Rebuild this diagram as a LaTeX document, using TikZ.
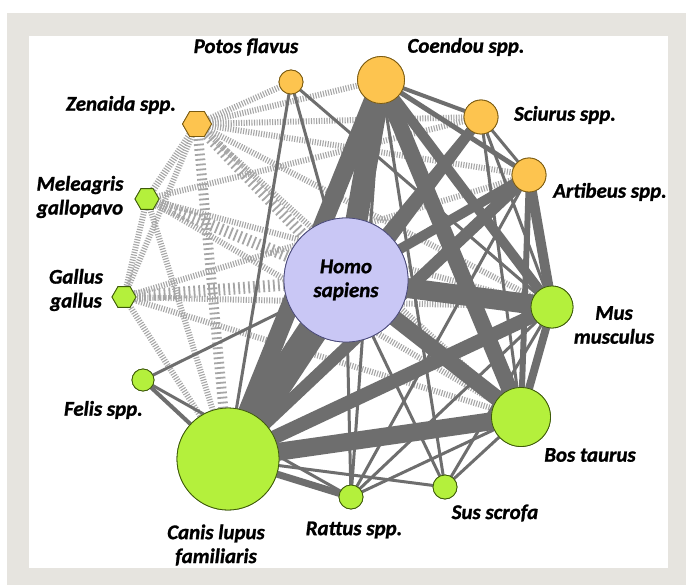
\documentclass[tikz,border=0pt]{standalone}
\usepackage{fontspec}
\setmainfont{Carlito}[BoldItalicFeatures={FakeBold=1.2}]
\usetikzlibrary{shapes.geometric}
\definecolor{bandgrey}{HTML}{E6E4DF}
\definecolor{orangefill}{HTML}{FDC44F}
\definecolor{orangeline}{HTML}{7A5A10}
\definecolor{greenfill}{HTML}{B4F03C}
\definecolor{greenline}{HTML}{3E5A0A}
\definecolor{homofill}{HTML}{C9C7F5}
\definecolor{homoline}{HTML}{4A4A7A}
\definecolor{edgegrey}{HTML}{6E6E6E}
\definecolor{hatchgrey}{HTML}{A6A6A6}
\begin{document}
\begin{tikzpicture}[x=1bp,y=-1bp,
  hostO/.style={circle,draw=orangeline,fill=orangefill,line width=0.8pt,inner sep=0pt,minimum size=#1},
  hostG/.style={circle,draw=greenline,fill=greenfill,line width=0.8pt,inner sep=0pt,minimum size=#1},
  birdO/.style={regular polygon,regular polygon sides=6,draw=orangeline,fill=orangefill,line width=0.8pt,inner sep=0pt,minimum size=#1},
  birdG/.style={regular polygon,regular polygon sides=6,draw=greenline,fill=greenfill,line width=0.8pt,inner sep=0pt,minimum size=#1},
  homonode/.style={circle,draw=homoline,fill=homofill,line width=0.8pt,inner sep=0pt,minimum size=124bp},
  lab/.style={font=\fontsize{21}{24}\selectfont\bfseries\itshape,align=center,inner sep=0pt},
  link/.style={draw=edgegrey,line width=#1},
  hatch/.style={draw=hatchgrey,line width=#1,dash pattern=on 1.1pt off 1.5pt},
  bighatch/.style={draw=hatchgrey,line width=#1,dash pattern=on 1.8pt off 3.2pt},
]
\useasboundingbox (0,0) rectangle (686,585);
\fill[bandgrey] (7,13) rectangle (686,585);
\fill[white] (29,36) rectangle (668,568);

% nodes (positions)
\node[homonode] (H) at (346,280) {};
\node[hostO=24bp] (Po) at (291,82) {};
\node[hostO=47bp] (Co) at (381,80) {};
\node[hostO=34bp] (Sc) at (481,117) {};
\node[hostO=34bp] (Ar) at (529,175) {};
\node[hostG=42bp] (Mu) at (552,307) {};
\node[hostG=59bp] (Bo) at (521,417) {};
\node[hostG=24bp] (Su) at (445,487) {};
\node[hostG=24bp] (Ra) at (351,497) {};
\node[hostG=102bp] (Ca) at (228,459) {};
\node[hostG=22bp] (Fe) at (143,380) {};
\node[birdG=24bp] (Ga) at (124,297) {};
\node[birdG=24bp] (Me) at (147,199) {};
\node[birdO=29bp] (Ze) at (197,124) {};

% hatched edges (bird links)
\foreach \a/\b/\w in {Ze/Po/6pt,Ze/Sc/6pt,Ze/Ar/6pt,Ze/Co/6pt,Ze/Me/7pt,Ze/Ga/6pt,Ze/Mu/6pt,Ze/Bo/6pt,
  Me/Ga/6pt,Me/Sc/6pt,Me/Ca/6pt,Me/Mu/6pt,Me/Bo/6pt,
  Ga/Ar/6pt,Ga/Ca/6pt,Ga/Bo/6pt,Ga/Mu/6pt}
  {\draw[hatch=\w] (\a.center) -- (\b.center);}
\foreach \a/\b/\w in {Ze/H/12pt,Ze/Ca/10pt,Me/H/12pt,Ga/H/12pt}
  {\draw[bighatch=\w] (\a.center) -- (\b.center);}

% solid edges
\foreach \a/\b/\w in {H/Ca/30pt,H/Co/22pt,H/Mu/20pt,H/Bo/16pt,H/Ar/10pt,H/Sc/8pt,H/Ra/3pt,H/Su/3pt,H/Fe/3pt,H/Po/3pt,
  Co/Ca/18pt,Co/Bo/16pt,Co/Mu/10pt,Co/Sc/4pt,Co/Ar/5pt,Co/Ra/3pt,Co/Su/3pt,
  Sc/Ca/10pt,Sc/Bo/3pt,Sc/Mu/3pt,Sc/Ar/3pt,
  Ar/Mu/10pt,Ar/Bo/6pt,Ar/Ca/12pt,Ar/Ra/3pt,
  Mu/Ca/14pt,Mu/Bo/8pt,Mu/Ra/3pt,Mu/Su/3pt,
  Bo/Ca/18pt,Bo/Ra/3pt,Bo/Su/3pt,
  Ca/Ra/7pt,Ca/Fe/4pt,Ca/Su/3pt,Fe/Ra/3pt,Po/Ca/3pt,Po/Mu/3pt}
  {\draw[link=\w] (\a.center) -- (\b.center);}

% nodes drawn again over the connectors
\node[homonode] (H2) at (H) {};
\node[hostO=24bp] (Po2) at (Po) {};
\node[hostO=47bp] (Co2) at (Co) {};
\node[hostO=34bp] (Sc2) at (Sc) {};
\node[hostO=34bp] (Ar2) at (Ar) {};
\node[hostG=42bp] (Mu2) at (Mu) {};
\node[hostG=59bp] (Bo2) at (Bo) {};
\node[hostG=24bp] (Su2) at (Su) {};
\node[hostG=24bp] (Ra2) at (Ra) {};
\node[hostG=102bp] (Ca2) at (Ca) {};
\node[hostG=22bp] (Fe2) at (Fe) {};
\node[birdG=24bp] (Ga2) at (Ga) {};
\node[birdG=24bp] (Me2) at (Me) {};
\node[birdO=29bp] (Ze2) at (Ze) {};

% labels
\node[lab] (tH) at (346,280) {Homo\\sapiens};
\node[lab] (tPo) at (246,47) {Potos flavus};
\node[lab] (tCo) at (466,47) {Coendou spp.};
\node[lab] (tZe) at (121,105) {Zenaida spp.};
\node[lab] (tSc) at (565,115) {Sciurus spp.};
\node[lab] (tAr) at (610,192) {Artibeus spp.};
\node[lab] (tMe) at (80,197) {Meleagris\\gallopavo};
\node[lab] (tGa) at (76,290) {Gallus\\gallus};
\node[lab] (tMu) at (614,325) {Mus\\musculus};
\node[lab,anchor=east] (tFe) at (143,410) {Felis spp.};
\node[lab] (tBo) at (590,455) {Bos taurus};
\node[lab] (tSu) at (495,513) {Sus scrofa};
\node[lab] (tRa) at (354,530) {Rattus spp.};
\node[lab] (tCa) at (216,545) {Canis lupus\\familiaris};
\end{tikzpicture}
\end{document}
